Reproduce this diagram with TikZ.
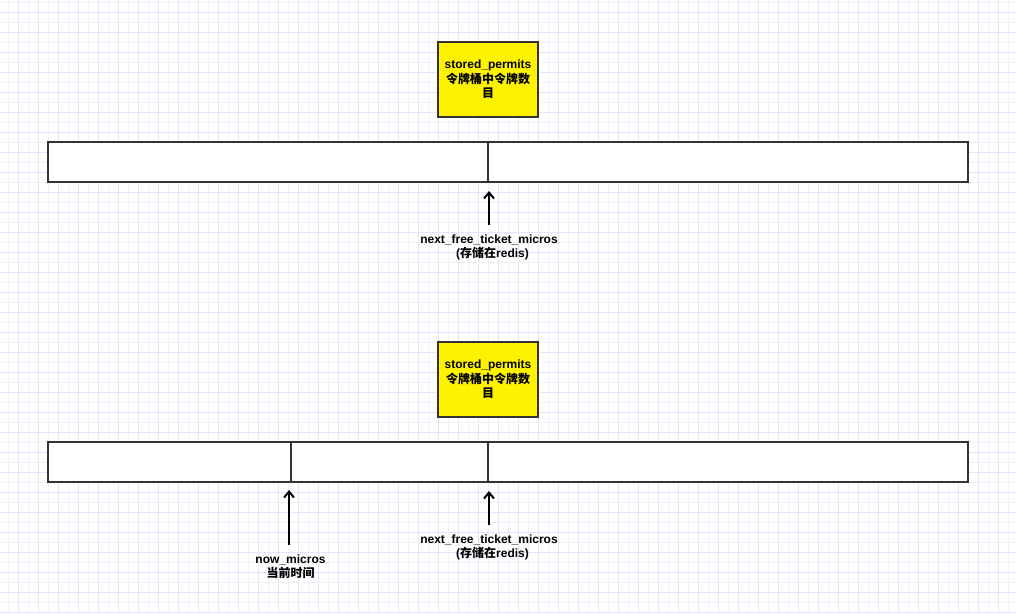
\documentclass[tikz,border=0pt]{standalone}
\usepackage{fontspec}
\setmainfont{Liberation Sans}
\newfontfamily\cjk{Noto Sans CJK SC}
\usetikzlibrary{arrows.meta}
\definecolor{gridfaint}{RGB}{240,240,246}
\definecolor{gridlav}{RGB}{228,228,255}
\definecolor{strk}{RGB}{51,51,51}
\tikzset{
  cell/.style={draw=strk, line width=2pt, fill=white, minimum height=40pt, inner sep=0pt, outer sep=0pt},
  permbox/.style={draw=strk, line width=2pt, fill=yellow, minimum width=100pt, minimum height=75pt, inner sep=0pt, align=center, font=\bfseries\fontsize{12pt}{14pt}\selectfont},
  lab/.style={align=center, inner sep=0pt, font=\bfseries\fontsize{12pt}{14pt}\selectfont},
  arr/.style={line width=2pt, black, -{Straight Barb[length=6pt,width=10pt,line width=2pt]}}
}
\begin{document}
\begin{tikzpicture}[x=1pt,y=-1pt]
\useasboundingbox (0,0) rectangle (1016,613);
\fill[white] (0,0) rectangle (1016,613);
% grid
\foreach \k in {0,...,50}{
  \draw[gridfaint, line width=1pt] ({8+20*\k},0) -- ({8+20*\k},613);
  \draw[gridlav, line width=1pt] ({18+20*\k},0) -- ({18+20*\k},613);
}
\foreach \k in {0,...,31}{
  \draw[gridfaint, line width=1pt] (0,{2+20*\k}) -- (1016,{2+20*\k});
  \draw[gridlav, line width=1pt] (0,{12+20*\k}) -- (1016,{12+20*\k});
}
% top section
\node[permbox] (box1) at (488,79.5) {stored\_permits\\[0.5pt]{\cjk\bfseries 令牌桶中令牌数}\\[0.5pt]{\cjk\bfseries 目}};
\node[cell, minimum width=440pt] (c1a) at (268,162) {};
\node[cell, minimum width=480pt] (c1b) at (728,162) {};
\node[lab] (lab1) at (489,247) {next\_free\_ticket\_micros\\\hspace*{7pt}({\cjk\bfseries 存储在}redis)};
\coordinate (a1s) at (489,225);
\coordinate (a1e) at (489,191);
\draw[arr] (a1s) -- (a1e);
% bottom section
\node[permbox] (box2) at (488,379.5) {stored\_permits\\[0.5pt]{\cjk\bfseries 令牌桶中令牌数}\\[0.5pt]{\cjk\bfseries 目}};
\node[cell, minimum width=243pt] (c2a) at (169.5,462) {};
\node[cell, minimum width=197pt] (c2b) at (389.5,462) {};
\node[cell, minimum width=480pt] (c2c) at (728,462) {};
\node[lab] (lab2) at (489,547) {next\_free\_ticket\_micros\\\hspace*{7pt}({\cjk\bfseries 存储在}redis)};
\coordinate (a2s) at (489,525);
\coordinate (a2e) at (489,491);
\draw[arr] (a2s) -- (a2e);
\node[lab] (lab3) at (290.5,567) {now\_micros\\{\cjk\bfseries 当前时间}};
\coordinate (a3s) at (289,545);
\coordinate (a3e) at (289,490);
\draw[arr] (a3s) -- (a3e);
\end{tikzpicture}
\end{document}
